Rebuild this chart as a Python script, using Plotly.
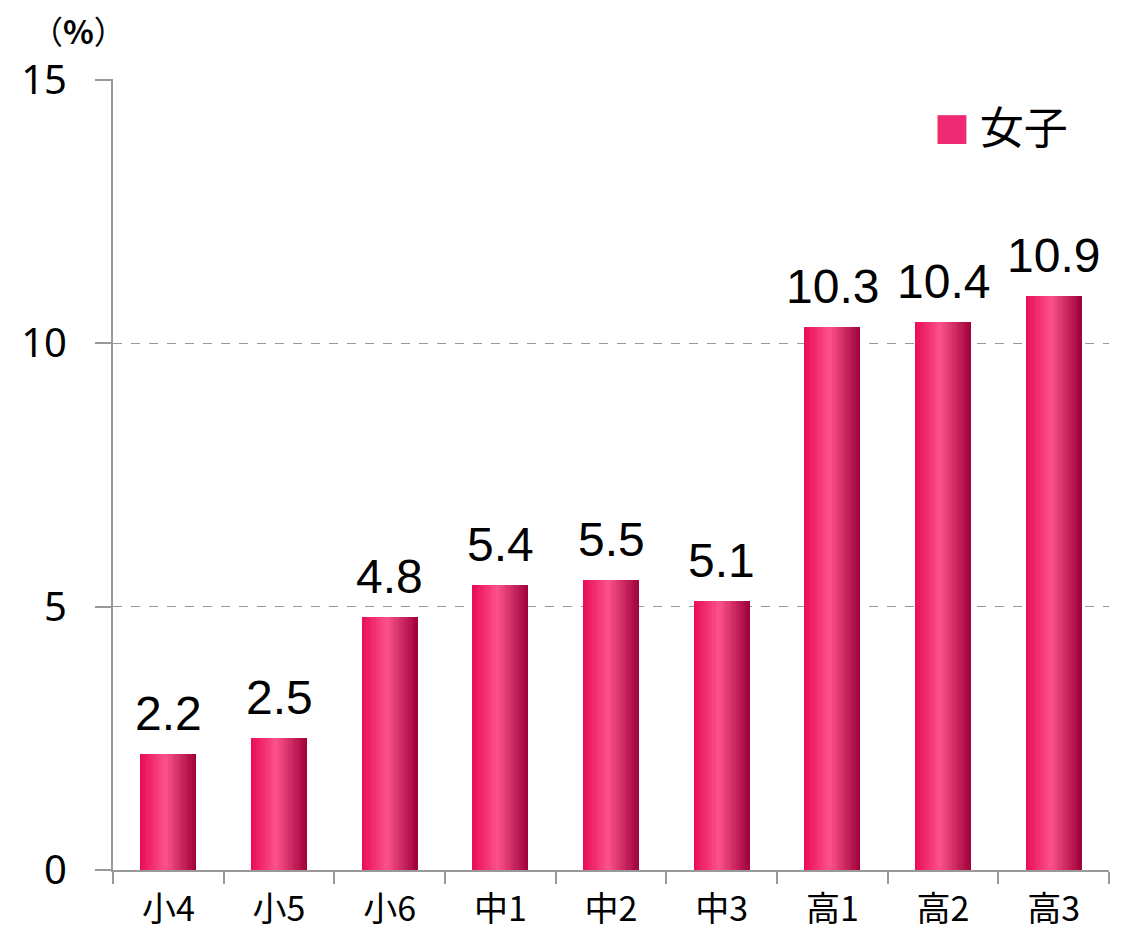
import plotly.graph_objects as go

categories = ["小4", "小5", "小6", "中1", "中2", "中3", "高1", "高2", "高3"]
values = [2.2, 2.5, 4.8, 5.4, 5.5, 5.1, 10.3, 10.4, 10.9]
value_labels = ["2.2", "2.5", "4.8", "5.4", "5.5", "5.1", "10.3", "10.4", "10.9"]
series_name = "女子"
y_ticks = [0, 5, 10, 15]

# horizontal gradient stops of the bar fill (position across bar, rgb)
grad_stops = [(0.0, (232, 12, 88)), (0.45, (252, 82, 138)), (1.0, (158, 0, 58))]
BAR_WIDTH = 0.506
N_STRIPS = 24


def grad_color(t):
    for (p0, c0), (p1, c1) in zip(grad_stops[:-1], grad_stops[1:]):
        if p0 <= t <= p1:
            f = (t - p0) / (p1 - p0)
            return "rgb(%d,%d,%d)" % tuple(round(a + (b - a) * f) for a, b in zip(c0, c1))
    return "rgb(%d,%d,%d)" % grad_stops[-1][1]


fig = go.Figure()
strip_w = BAR_WIDTH / N_STRIPS
for i in range(N_STRIPS):
    t = (i + 0.5) / N_STRIPS
    fig.add_trace(go.Bar(
        x=categories, y=values,
        width=[strip_w * 1.02] * len(categories),
        offset=[-BAR_WIDTH / 2 + i * strip_w] * len(categories),
        marker=dict(color=grad_color(t), line=dict(width=0)),
        showlegend=False, hoverinfo="skip", name=series_name,
    ))

for c, v, lab in zip(categories, values, value_labels):
    fig.add_annotation(x=c, y=v, text=lab, showarrow=False, yanchor="bottom",
                       yshift=12,
                       font=dict(family="Liberation Sans, Arial, sans-serif",
                                 size=48, color="#000"))

# legend as text
fig.add_annotation(xref="paper", yref="paper", x=0.822, y=0.942, xanchor="left", yanchor="middle",
                   text="<span style='color:#ee2a72;font-size:36px'>■</span> " + series_name,
                   showarrow=False,
                   font=dict(family="Noto Sans CJK JP", size=44, color="#000"))

fig.add_annotation(xref="paper", yref="paper", x=-0.084, y=1.062, xanchor="left", yanchor="middle",
                   text="（<b>%</b>）", showarrow=False,
                   font=dict(family="Noto Sans CJK JP", size=32, color="#000"))

fig.update_layout(
    width=1127, height=936,
    margin=dict(l=105, r=26, t=71, b=74),
    paper_bgcolor="white", plot_bgcolor="white",
    barmode="overlay", bargap=0,
    xaxis=dict(type="category", showline=True, linecolor="#999", linewidth=2,
               ticks="outside", tickson="boundaries", ticklen=12, tickcolor="#999", tickwidth=2,
               tickfont=dict(family="Noto Sans CJK JP", size=34, color="#000"),
               ticklabelstandoff=8, automargin=False,
               showgrid=False, range=[-0.5, 8.5]),
    yaxis=dict(range=[0, 15.01], tickvals=y_ticks, showline=True, linecolor="#999", linewidth=2,
               ticks="outside", ticklen=16, tickcolor="#999", tickwidth=2,
               showgrid=True, gridcolor="#999", griddash="dash", gridwidth=1,
               zeroline=False, automargin=False, ticklabelstandoff=20,
               tickfont=dict(family="Noto Sans, sans-serif", size=40, color="#000")),
)

fig.write_html("out.html")
